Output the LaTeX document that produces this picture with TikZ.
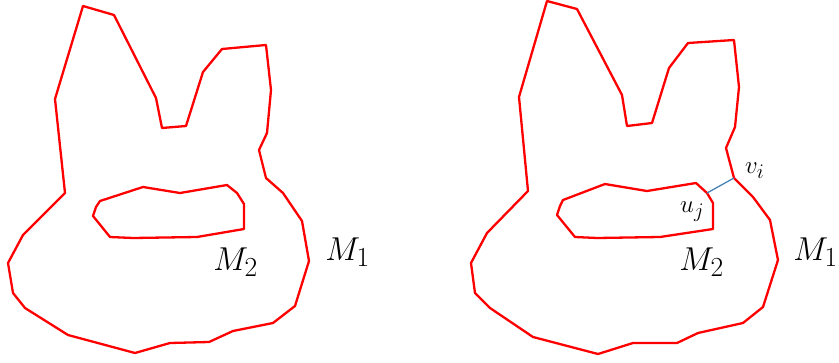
\documentclass[tikz,border=0pt]{standalone}
\begin{document}
\begin{tikzpicture}[x=1pt,y=-1pt,
  contour/.style={draw=red,line width=2.3pt,line join=round},
  bridge/.style={draw={rgb,255:red,70;green,130;blue,180},line width=1.3pt},
  biglabel/.style={anchor=base west,inner sep=0pt,font=\Huge,scale=1.33},
  smalllabel/.style={anchor=base west,inner sep=0pt,font=\Huge}]
\useasboundingbox (0,0) rectangle (839,362);
% left figure
\draw[contour] (83,6) -- (114,15) -- (156,98) -- (162,128) -- (186,126) -- (203,72) -- (222,49) -- (266,45) -- (271,90) -- (267,133) -- (259,150) -- (266,178) -- (283,193) -- (302,221) -- (309,261) -- (295,306) -- (273,323) -- (233,331) -- (209,342) -- (170,343) -- (135,353) -- (68,335) -- (25,308) -- (13,293) -- (8,263) -- (23,235) -- (65,193) -- (55,99) -- cycle;
\draw[contour] (100,201) -- (143,187) -- (180,193) -- (227,185) -- (237,193) -- (244,204) -- (244,229) -- (197,237) -- (133,238) -- (110,237) -- (93,216) -- (96,207) -- cycle;
\node[biglabel] (m2a) at (213,270) {$M_2$};
\node[biglabel] (m1a) at (325,260) {$M_1$};
% right figure
\coordinate (vi) at (734,178);
\coordinate (uj) at (707,193);
\draw[contour] (547,1) -- (577,9) -- (622,95) -- (627,126) -- (652,123) -- (669,68) -- (688,43) -- (734,40) -- (739,87) -- (735,127) -- (726,148) -- (vi) -- (753,197) -- (770,220) -- (778,260) -- (763,307) -- (743,323) -- (698,333) -- (677,343) -- (633,343) -- (598,354) -- (533,337) -- (490,308) -- (475,293) -- (471,263) -- (487,233) -- (528,191) -- (519,97) -- cycle;
\draw[contour] (563,200) -- (605,184) -- (647,191) -- (696,183) -- (uj) -- (713,203) -- (713,229) -- (660,237) -- (597,238) -- (575,237) -- (557,215) -- (560,206) -- cycle;
\draw[bridge] (uj) -- (vi);
\node[smalllabel] (vilab) at (745,173) {$v_i$};
\node[smalllabel] (ujlab) at (680,212) {$u_j$};
\node[biglabel] (m2b) at (679,270) {$M_2$};
\node[biglabel] (m1b) at (793,260) {$M_1$};
\end{tikzpicture}
\end{document}
